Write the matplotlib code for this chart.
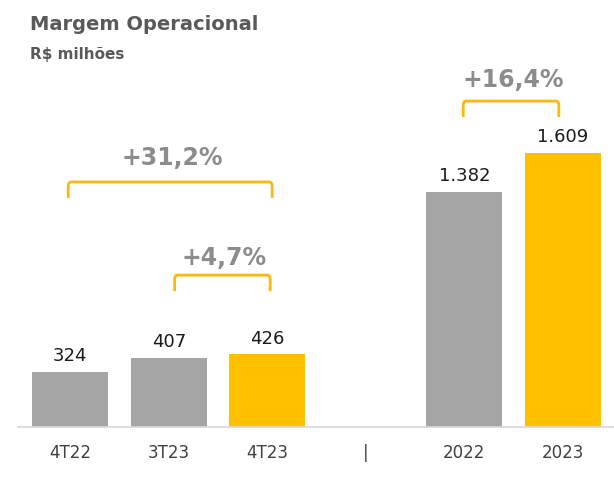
import numpy as np
import matplotlib.pyplot as plt
from matplotlib.path import Path
from matplotlib.patches import PathPatch

# dados
categorias = ["4T22", "3T23", "4T23", "|", "2022", "2023"]
valores = [324, 407, 426, None, 1382, 1609]
rotulos = ["324", "407", "426", "", "1.382", "1.609"]
cores = ["#A5A5A5", "#A5A5A5", "#FFC000", None, "#A5A5A5", "#FFC000"]

variacoes = ["+31,2%", "+4,7%", "+16,4%"]
pares = [(0, 2), (1, 2), (4, 5)]

fig = plt.figure(figsize=(6.14, 4.84), dpi=100)
ax = fig.add_axes([18 / 614, 57 / 484, 596 / 614, 367 / 484])

x = np.arange(len(categorias))
for i, v in enumerate(valores):
    if v is None:
        continue
    ax.bar(x[i], v, width=0.77, color=cores[i])
    ax.annotate(rotulos[i], (x[i], v), xytext=(0, 5), textcoords="offset points",
                ha="center", va="bottom", fontsize=13, color="#1a1a1a")

ax.set_xlim(-0.53, 5.52)
ax.set_ylim(0, 2155)
ax.set_xticks(x)
ax.set_xticklabels(categorias, fontsize=12, color="#404040")
ax.tick_params(axis="x", length=0, pad=12)
ax.set_yticks([])
for s in ["top", "right", "left"]:
    ax.spines[s].set_visible(False)
ax.spines["bottom"].set_color("#D9D9D9")
ax.spines["bottom"].set_linewidth(1.2)


def chave(ax, x0, x1, y, altura, txt, ty):
    r = 0.03
    verts = [(x0, y - altura), (x0, y - 25), (x0, y), (x0 + r, y),
             (x1 - r, y), (x1, y), (x1, y - 25), (x1, y - altura)]
    codes = [Path.MOVETO, Path.LINETO, Path.CURVE3, Path.CURVE3,
             Path.LINETO, Path.CURVE3, Path.CURVE3, Path.LINETO]
    ax.add_patch(PathPatch(Path(verts, codes), fill=False, edgecolor="#FBB80E",
                           linewidth=2, capstyle="butt"))
    ax.text((x0 + x1) / 2 + 0.02, ty, txt, ha="center", va="center",
            fontsize=17, fontweight="bold", color="#8C8C8C")


chave(ax, -0.02, 2.05, 1439, 94, variacoes[0], 1580)
chave(ax, 1.06, 2.03, 892, 94, variacoes[1], 992)
chave(ax, 3.99, 4.96, 1914, 94, variacoes[2], 2038)

fig.text(30 / 614, 1 - 24 / 484, "Margem Operacional", fontsize=14, fontweight="bold",
         color="#595959", va="center")
fig.text(30 / 614, 1 - 55 / 484, "R$ milhões", fontsize=11, fontweight="bold",
         color="#595959", va="center")

fig.savefig("out.png", dpi=100)
